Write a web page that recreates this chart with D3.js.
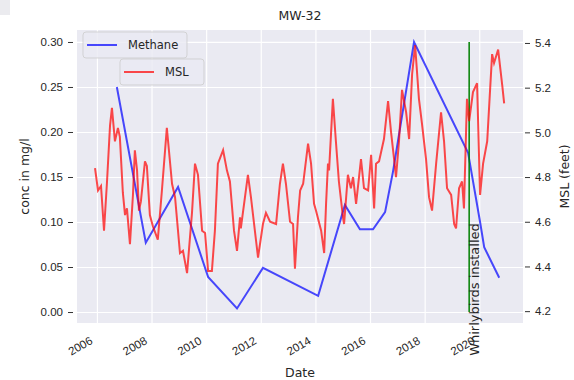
<!DOCTYPE html>
<html>
<head>
<meta charset="utf-8">
<script src="https://d3js.org/d3.v7.min.js"></script>
<style>
  body { margin: 0; background: #fff; }
  svg { display: block; font-family: 'DejaVu Sans', sans-serif; }
</style>
</head>
<body>
<div id="chart"></div>
<script>
'use strict';

// Data, dates kept as decimal years
let methaneYears = [2006.73, 2007.79, 2008.97, 2010.07, 2011.13, 2012.08, 2014.10, 2015.08,
  2015.63, 2016.11, 2016.55, 2016.84, 2017.61, 2019.59, 2020.03, 2020.18, 2020.73];
let methaneConc = [0.250, 0.077, 0.139, 0.039, 0.004, 0.049, 0.018, 0.119,
  0.092, 0.092, 0.111, 0.156, 0.300, 0.177, 0.100, 0.072, 0.038];

let mslYears = [
  2005.93, 2006.04, 2006.15, 2006.26, 2006.37, 2006.48, 2006.55, 2006.66, 2006.77, 2006.84,
  2006.95, 2007.03, 2007.10, 2007.21, 2007.32, 2007.39, 2007.47, 2007.54, 2007.61, 2007.76,
  2007.83, 2007.94, 2008.05, 2008.23, 2008.38, 2008.56, 2008.75, 2008.86, 2009.04, 2009.15,
  2009.30, 2009.48, 2009.59, 2009.70, 2009.85, 2009.96, 2010.07, 2010.21, 2010.32, 2010.43,
  2010.62, 2010.76, 2010.87, 2011.02, 2011.13, 2011.24, 2011.27, 2011.53, 2011.64, 2011.90,
  2012.08, 2012.19, 2012.34, 2012.56, 2012.70, 2012.81, 2012.92, 2013.07, 2013.18, 2013.25,
  2013.36, 2013.44, 2013.55, 2013.73, 2013.84, 2013.95, 2014.02, 2014.21, 2014.32, 2014.39,
  2014.46, 2014.50, 2014.64, 2014.75, 2014.86, 2015.01, 2015.05, 2015.19, 2015.30, 2015.38,
  2015.49, 2015.67, 2015.78, 2015.93, 2016.04, 2016.15, 2016.22, 2016.33, 2016.51, 2016.66,
  2016.77, 2016.88, 2016.95, 2017.06, 2017.17, 2017.32, 2017.43, 2017.54, 2017.65, 2017.79,
  2017.90, 2018.05, 2018.16, 2018.27, 2018.42, 2018.60, 2018.71, 2018.82, 2018.97, 2019.08,
  2019.15, 2019.26, 2019.37, 2019.44, 2019.55, 2019.63, 2019.77, 2019.92, 2020.03, 2020.14,
  2020.29, 2020.40, 2020.47, 2020.54, 2020.69, 2020.84, 2020.91];
let mslFeet = [
  4.84, 4.74, 4.76, 4.56, 4.78, 5.03, 5.11, 4.96, 5.02, 4.98,
  4.73, 4.63, 4.66, 4.50, 4.72, 4.92, 4.83, 4.65, 4.69, 4.87,
  4.85, 4.63, 4.58, 4.52, 4.74, 5.02, 4.77, 4.71, 4.46, 4.47,
  4.37, 4.64, 4.86, 4.81, 4.56, 4.55, 4.38, 4.38, 4.56, 4.86,
  4.92, 4.83, 4.78, 4.56, 4.47, 4.62, 4.57, 4.81, 4.71, 4.44,
  4.59, 4.64, 4.60, 4.59, 4.77, 4.86, 4.77, 4.60, 4.59, 4.39,
  4.62, 4.74, 4.77, 4.95, 4.86, 4.68, 4.65, 4.56, 4.46, 4.68,
  4.86, 4.83, 5.15, 4.96, 4.78, 4.62, 4.59, 4.81, 4.75, 4.80,
  4.68, 4.88, 4.75, 4.74, 4.90, 4.66, 4.86, 4.87, 4.97, 5.14,
  5.00, 4.88, 4.80, 4.96, 5.19, 5.09, 4.97, 5.26, 5.39, 5.15,
  5.04, 4.88, 4.71, 4.65, 4.86, 5.09, 4.96, 4.75, 4.72, 4.59,
  4.57, 4.75, 4.78, 4.66, 5.15, 5.05, 5.18, 5.22, 4.72, 4.86,
  4.96, 5.20, 5.35, 5.31, 5.37, 5.21, 5.13];

let xTickYears = [2006, 2008, 2010, 2012, 2014, 2016, 2018, 2020];
let concTicks = [0.00, 0.05, 0.10, 0.15, 0.20, 0.25, 0.30];
let mslTicks = [4.2, 4.4, 4.6, 4.8, 5.0, 5.2, 5.4];

let xExtent = [2005.27, 2021.6];
let concExtent = [-0.0122, 0.3133];
let mslExtent = [4.147, 5.458];

let installYear = 2019.63;
let installLabel = 'Whirlybirds installed';

// Formatting
let width = 574;
let height = 380;
let margin = {left: 77, top: 30, right: 51, bottom: 57};
let pw = width - margin.left - margin.right;
let ph = height - margin.top - margin.bottom;

let bgColor = '#EAEAF2';
let textColor = '#262626';

// Helpers
function yearToDate(t){
  let y = Math.floor(t);
  let start = new Date(y, 0, 1);
  let end = new Date(y + 1, 0, 1);
  return new Date(start.getTime() + (t - y) * (end - start));
}

let methaneData = d3.zip(methaneYears, methaneConc).map(d => ({date: yearToDate(d[0]), value: d[1]}));
let mslData = d3.zip(mslYears, mslFeet).map(d => ({date: yearToDate(d[0]), value: d[1]}));

// Scales
let x = d3.scaleTime().domain(xExtent.map(yearToDate)).range([0, pw]);
let yConc = d3.scaleLinear().domain(concExtent).range([ph, 0]);
let yMsl = d3.scaleLinear().domain(mslExtent).range([ph, 0]);

let svg = d3.select('#chart').append('svg')
  .attr('width', width)
  .attr('height', height);

// little grey corner left in the picture
svg.append('rect')
  .attr('width', 10).attr('height', 15)
  .attr('fill', '#ebebef');

let plot = svg.append('g')
  .attr('transform', `translate(${margin.left},${margin.top})`);

plot.append('rect')
  .attr('width', pw)
  .attr('height', ph)
  .attr('fill', bgColor);

// Grid
let gridY = plot.append('g')
  .call(d3.axisLeft(yConc).tickValues(concTicks).tickSize(-pw).tickFormat(''));
let gridX = plot.append('g')
  .attr('transform', `translate(0,${ph})`)
  .call(d3.axisBottom(x).tickValues(xTickYears.map(yearToDate)).tickSize(-ph).tickFormat(''));
[gridX, gridY].forEach(g => {
  g.select('.domain').remove();
  g.selectAll('line').attr('stroke', '#fff').attr('stroke-width', 1.2);
});

// Lines
let concLine = d3.line().x(d => x(d.date)).y(d => yConc(d.value));
let mslLine = d3.line().x(d => x(d.date)).y(d => yMsl(d.value));

plot.append('path')
  .datum(methaneData)
  .attr('d', concLine)
  .attr('fill', 'none')
  .attr('stroke', 'blue')
  .attr('stroke-opacity', 0.7)
  .attr('stroke-width', 2);

let installX = x(yearToDate(installYear));
plot.append('line')
  .attr('x1', installX).attr('x2', installX)
  .attr('y1', yConc(0)).attr('y2', yConc(0.30))
  .attr('stroke', 'green')
  .attr('stroke-width', 1.5);

plot.append('path')
  .datum(mslData)
  .attr('d', mslLine)
  .attr('fill', 'none')
  .attr('stroke', 'red')
  .attr('stroke-opacity', 0.7)
  .attr('stroke-width', 2);

// Annotation, bottom sits on 4.0 ft of the right axis
plot.append('text')
  .attr('transform', `translate(${installX + 10},${yMsl(4.0)}) rotate(-90)`)
  .attr('fill', textColor)
  .style('font-size', '13px')
  .text(installLabel);

// Axes
let leftAxis = plot.append('g')
  .call(d3.axisLeft(yConc).tickValues(concTicks).tickSize(5).tickPadding(9).tickFormat(d3.format('.2f')));
let rightAxis = plot.append('g')
  .attr('transform', `translate(${pw},0)`)
  .call(d3.axisRight(yMsl).tickValues(mslTicks).tickSize(5).tickPadding(7).tickFormat(d3.format('.1f')));
let bottomAxis = plot.append('g')
  .attr('transform', `translate(0,${ph})`)
  .call(d3.axisBottom(x).tickValues(xTickYears.map(yearToDate)).tickSize(0).tickFormat(d3.timeFormat('%Y')));

[leftAxis, rightAxis, bottomAxis].forEach(g => {
  g.select('.domain').remove();
  g.selectAll('text').attr('fill', textColor).style('font-size', '11.5px');
  g.selectAll('line').attr('stroke', '#333');
});
leftAxis.selectAll('line').attr('x1', -4).attr('x2', -9);
rightAxis.selectAll('line').attr('x1', 2).attr('x2', 7);

// rotated date labels, right end just left of the tick
bottomAxis.selectAll('text')
  .attr('x', 0).attr('y', 0).attr('dy', 0)
  .attr('text-anchor', 'end')
  .attr('transform', 'translate(-4,20) rotate(-30)');

// Labels
svg.append('text')
  .attr('x', margin.left + pw / 2).attr('y', 20)
  .attr('text-anchor', 'middle')
  .attr('fill', textColor)
  .style('font-size', '12.5px')
  .text('MW-32');

svg.append('text')
  .attr('x', margin.left + pw / 2).attr('y', 377)
  .attr('text-anchor', 'middle')
  .attr('fill', textColor)
  .style('font-size', '12.5px')
  .text('Date');

svg.append('text')
  .attr('transform', `translate(29,${margin.top + ph / 2}) rotate(-90)`)
  .attr('text-anchor', 'middle')
  .attr('fill', textColor)
  .style('font-size', '12.5px')
  .text('conc in mg/l');

svg.append('text')
  .attr('transform', `translate(569,${margin.top + ph / 2}) rotate(-90)`)
  .attr('text-anchor', 'middle')
  .attr('fill', textColor)
  .style('font-size', '12.5px')
  .text('MSL (feet)');

// Legends, one for each axis
function addLegend(x0, y0, w, label, color){
  let g = svg.append('g').attr('transform', `translate(${x0},${y0})`);
  g.append('rect')
    .attr('width', w).attr('height', 26).attr('rx', 3)
    .attr('fill', bgColor).attr('fill-opacity', 0.8)
    .attr('stroke', '#ccc').attr('stroke-opacity', 0.8);
  g.append('line')
    .attr('x1', 4).attr('x2', 34).attr('y1', 13).attr('y2', 13)
    .attr('stroke', color).attr('stroke-opacity', 0.7).attr('stroke-width', 2);
  g.append('text')
    .attr('x', 45).attr('y', 17)
    .attr('fill', textColor)
    .style('font-size', '11.5px')
    .text(label);
}
addLegend(83, 32, 104, 'Methane', 'blue');
addLegend(120, 59, 84, 'MSL', 'red');
</script>
</body>
</html>
